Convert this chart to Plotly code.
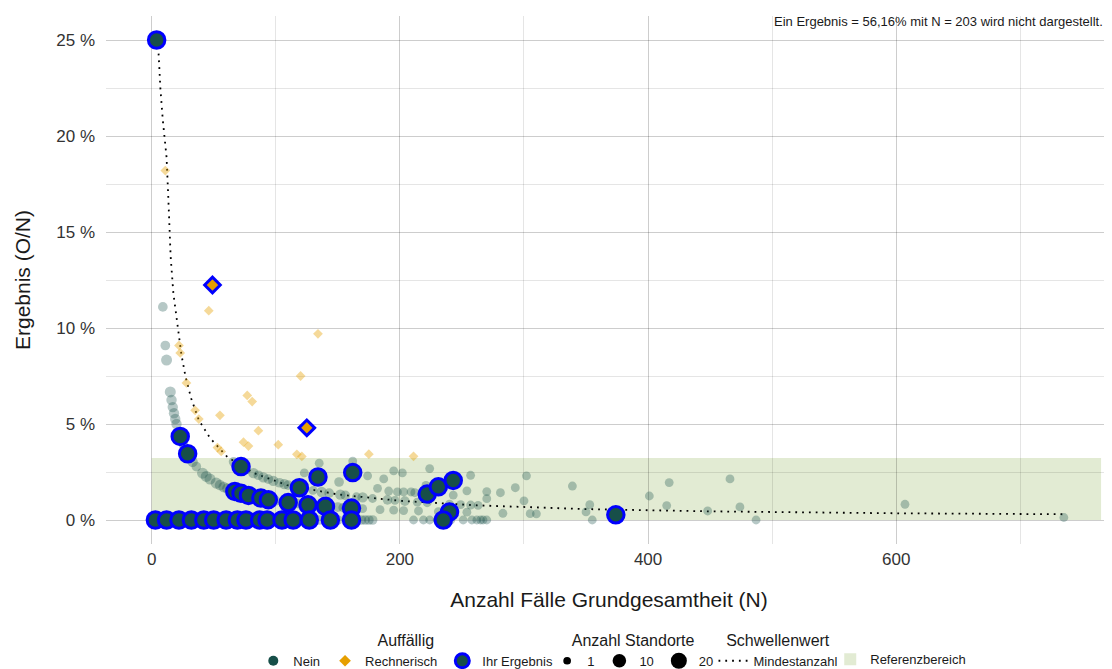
import numpy as np
import plotly.graph_objects as go

# === Daten ===
# Auffällig = Nein (nicht hervorgehoben)
nein_n = [9, 11, 12, 15, 16, 17, 18, 19, 20, 22, 26, 31, 33, 36, 41, 44, 47, 52, 55, 58, 61, 64,
          84, 100, 118, 131, 150, 154, 170, 184, 195, 203, 215, 231, 254, 283, 305, 310,
          66, 76, 82, 86, 90, 94, 98, 103, 107, 110, 115, 122, 130, 137, 143, 152, 156, 165, 170,
          178, 190, 196, 204, 214, 222, 240, 249, 257, 263,
          123, 135, 151, 162, 174, 182, 187, 191, 195, 198, 202, 203, 209, 212, 221, 224, 243,
          254, 257, 270, 270, 281, 293, 300, 302, 339, 350, 353, 401, 417, 415, 448, 466, 474,
          607, 735,
          5, 8, 16, 27, 36, 46, 55, 64, 80, 98, 120, 135, 150, 164, 169, 172, 175, 178, 211, 219,
          224, 230, 241, 251, 258, 262, 265, 267, 270, 355, 487]
nein_pct = [11.1, 9.09, 8.33, 6.67, 6.25, 5.88, 5.56, 5.26, 5.0, 4.55, 3.85, 3.23, 3.03, 2.78, 2.44,
            2.27, 2.13, 1.92, 1.82, 1.72, 1.64, 1.56,
            1.19, 1.0, 0.85, 0.76, 0.67, 0.65, 0.59, 0.54, 0.51, 0.49, 0.47, 0.43, 0.41, 0.35, 0.33, 0.32,
            3.03, 2.63, 2.44, 2.33, 2.22, 2.13, 2.04, 1.94, 1.87, 1.82, 1.74, 1.64, 1.54, 1.46, 1.40,
            1.32, 1.28, 1.21, 1.18, 1.12, 1.05, 1.02, 0.98, 0.93, 0.90, 0.83, 0.80, 0.78, 0.76,
            2.45, 2.96, 1.98, 3.07, 2.30, 1.65, 2.14, 1.51, 2.56, 1.46, 2.45, 1.46, 1.46, 1.42, 1.80,
            2.68, 1.30, 1.52, 2.33, 1.48, 1.11, 1.42, 1.68, 1.00, 2.30, 1.77, 0.42, 0.80, 1.25, 1.95,
            0.75, 0.47, 2.14, 0.68, 0.82, 0.13,
            0, 0, 0, 0, 0, 0, 0, 0, 0, 0, 0, 0, 0, 0, 0, 0, 0, 0, 0, 0,
            0, 0, 0, 0, 0, 0, 0, 0, 0, 0, 0]
nein_standorte = [3, 3, 5, 5, 4, 4, 4, 4, 4, 3, 3, 3, 4, 3, 5, 5, 5, 5, 4, 4, 4, 4,
                  3, 3, 3, 2, 3, 2, 2, 2, 2, 2, 2, 2, 2, 2, 2, 2,
                  3, 3, 4, 3, 4, 3, 4, 3, 4, 3, 2, 2, 2, 4, 3, 4, 3, 2, 4,
                  2, 3, 2, 3, 2, 2, 2, 2, 2, 2,
                  2, 2, 3, 2, 2, 2, 2, 2, 2, 2, 2, 2, 2, 2, 2, 2, 2,
                  2, 2, 2, 2, 2, 2, 2, 2, 2, 2, 2, 2, 2, 2, 2, 2, 2,
                  2, 2,
                  3, 3, 3, 3, 3, 3, 3, 3, 3, 3, 3, 3, 3, 3, 3, 3, 3, 3, 2, 2,
                  2, 2, 2, 2, 2, 2, 2, 2, 2, 2, 2]

# Auffällig = Rechnerisch (nicht hervorgehoben)
rech_n = [11, 46, 134, 22, 23, 120, 28, 77, 81, 35, 38, 55, 86, 53, 56, 74, 78, 102, 117, 121, 175, 211]
rech_pct = [18.2, 10.9, 9.7, 9.09, 8.7, 7.5, 7.14, 6.49, 6.17, 5.71, 5.26, 5.45, 4.65, 3.77, 3.57,
            4.05, 3.85, 3.92, 3.42, 3.31, 3.43, 3.32]

# Ihr Ergebnis
ihr_n = [4, 23, 29, 72, 67, 72, 78, 88, 94, 110, 119, 126, 134, 140, 161, 162, 222, 231, 243, 240,
         235, 374, 3, 12, 22, 32, 42, 50, 60, 69, 76, 87, 93, 105, 114, 127, 144, 161]
ihr_pct = [25.0, 4.35, 3.45, 2.78, 1.49, 1.39, 1.28, 1.14, 1.06, 0.91, 1.68, 0.79, 2.24, 0.71, 0.62,
           2.47, 1.35, 1.73, 2.06, 0.42, 0, 0.27, 0, 0, 0, 0, 0, 0, 0, 0, 0, 0, 0, 0, 0, 0, 0, 0]
ihr_rech_n = [49, 125]
ihr_rech_pct = [12.24, 4.8]

# Schwellenwert (Mindestanzahl)
schwelle_n = [5, 7, 9, 10.5, 12, 13.4, 15.3, 17.5, 20.6, 24, 27.3, 32, 38, 47, 61, 82, 109, 150,
              200, 260, 347, 450, 600, 735]
schwelle_pct = [25.0, 22.5, 20.8, 19.8, 18.9, 16.8, 13.7, 11.8, 10.25, 8.6, 7.46, 6.3, 5.2, 4.27,
                3.28, 2.45, 1.82, 1.33, 1.0, 0.77, 0.57, 0.45, 0.35, 0.3]

# Referenzbereich
ref_von, ref_bis = 0.0, 3.23
ref_n_min, ref_n_max = 0, 765

x_ticks = [0, 200, 400, 600]
y_ticks = [0, 5, 10, 15, 20, 25]
standorte_legende = [1, 10, 20]

TEAL = "#174f49"
TEAL_HELL = "rgba(23,79,73,0.45)"
ORANGE = "#e69f00"
ORANGE_HELL = "rgba(230,159,0,0.4)"
BLAU = "#0000ff"
GRUEN = "#e2ebd3"
GRID = "rgba(0,0,0,0.1)"
SCHRIFT = "Liberation Sans, Arial, sans-serif"


def punkt_groesse(s):
    return 5 + 2.7 * np.sqrt(np.asarray(s, dtype=float))


fig = go.Figure()

# Referenzbereich als Rechteck unter den Gitterlinien
fig.add_shape(type="rect", xref="x", yref="y", x0=ref_n_min, x1=ref_n_max, y0=ref_von, y1=ref_bis,
              fillcolor=GRUEN, line_width=0, layer="below")

# Schwellenwert-Linie
fig.add_trace(go.Scatter(x=schwelle_n, y=schwelle_pct, mode="lines", name="Mindestanzahl",
                         line=dict(color="black", width=1.8, dash="1.8px,5px"),
                         legend="legend3", hoverinfo="skip"))

# nicht hervorgehobene Punkte
fig.add_trace(go.Scatter(x=nein_n, y=nein_pct, mode="markers", showlegend=False,
                         marker=dict(color=TEAL_HELL, size=punkt_groesse(nein_standorte), line_width=0)))
fig.add_trace(go.Scatter(x=rech_n, y=rech_pct, mode="markers", showlegend=False,
                         marker=dict(color=ORANGE_HELL, size=7.5, symbol="diamond", line_width=0)))

# Ihr Ergebnis
fig.add_trace(go.Scatter(x=ihr_n, y=ihr_pct, mode="markers", showlegend=False,
                         marker=dict(color=TEAL, size=16.5, line=dict(color=BLAU, width=3))))
fig.add_trace(go.Scatter(x=ihr_rech_n, y=ihr_rech_pct, mode="markers", showlegend=False,
                         marker=dict(color=ORANGE, size=12, symbol="diamond", line=dict(color=BLAU, width=3))))

# === Legenden-Einträge ===
fig.add_trace(go.Scatter(x=[None], y=[None], mode="markers", name="Nein", legend="legend",
                         marker=dict(color=TEAL, size=10)))
fig.add_trace(go.Scatter(x=[None], y=[None], mode="markers", name="Rechnerisch", legend="legend",
                         marker=dict(color=ORANGE, size=9, symbol="diamond")))
fig.add_trace(go.Scatter(x=[None], y=[None], mode="markers", name="Ihr Ergebnis", legend="legend",
                         marker=dict(color=TEAL, size=14, line=dict(color=BLAU, width=3))))
for s in standorte_legende:
    fig.add_trace(go.Scatter(x=[None], y=[None], mode="markers", name=str(s), legend="legend2",
                             marker=dict(color="black", size=float(punkt_groesse(s)))))
fig.add_trace(go.Bar(x=[None], y=[None], name="Referenzbereich", legend="legend4",
                     marker=dict(color=GRUEN, line_width=0)))

# Legenden unten, relativ zum Container (kein Verschieben der Ränder)
leg_basis = dict(orientation="h", yref="container", yanchor="top", y=0.0777, xanchor="center",
                 font=dict(size=13, color="#1a1a1a", family=SCHRIFT), bgcolor="rgba(0,0,0,0)",
                 itemwidth=30, itemsizing="trace", itemclick=False)

fig.update_layout(
    width=1112, height=669,
    # die Seite hat 8px Rand, daher links/oben etwas weniger
    margin=dict(l=98, r=8, t=8, b=133),
    plot_bgcolor="white", paper_bgcolor="white",
    font=dict(family=SCHRIFT, color="#1a1a1a"),
    xaxis=dict(range=[-36.8, 773.8], tickvals=x_ticks, ticktext=[str(v) for v in x_ticks],
               showgrid=True, gridcolor=GRID, gridwidth=1, zeroline=False, showline=False, ticks="",
               minor=dict(dtick=100, tick0=0, showgrid=True, gridcolor=GRID, gridwidth=1),
               tickfont=dict(size=17, color="#333333"), automargin=False, ticklabelstandoff=3,
               title=dict(text="Anzahl Fälle Grundgesamtheit (N)", font=dict(size=21), standoff=24)),
    yaxis=dict(range=[-1.25, 26.25], tickvals=y_ticks, ticktext=[f"{v} %" for v in y_ticks],
               showgrid=True, gridcolor=GRID, gridwidth=1, zeroline=False, showline=False, ticks="",
               minor=dict(dtick=2.5, tick0=0, showgrid=True, gridcolor=GRID, gridwidth=1),
               tickfont=dict(size=17, color="#333333"), automargin=False, ticklabelstandoff=10,
               title=dict(text="Ergebnis (O/N)", font=dict(size=21), standoff=19)),
    legend=dict(leg_basis, x=0.298, title=dict(text="Auffällig", side="top center")),
    legend2=dict(leg_basis, x=0.524, title=dict(text="Anzahl Standorte", side="top center")),
    legend3=dict(leg_basis, x=0.668, title=dict(text="Schwellenwert", side="top center")),
    legend4=dict(leg_basis, x=0.79, y=0.049),
    annotations=[dict(text="Ein Ergebnis = 56,16% mit N = 203 wird nicht dargestellt.",
                      xref="paper", yref="paper", x=0.993, y=0.99, xanchor="right", yanchor="middle",
                      showarrow=False, font=dict(size=13, color="#1a1a1a"))],
    showlegend=True,
)

fig.write_html("out.html")
